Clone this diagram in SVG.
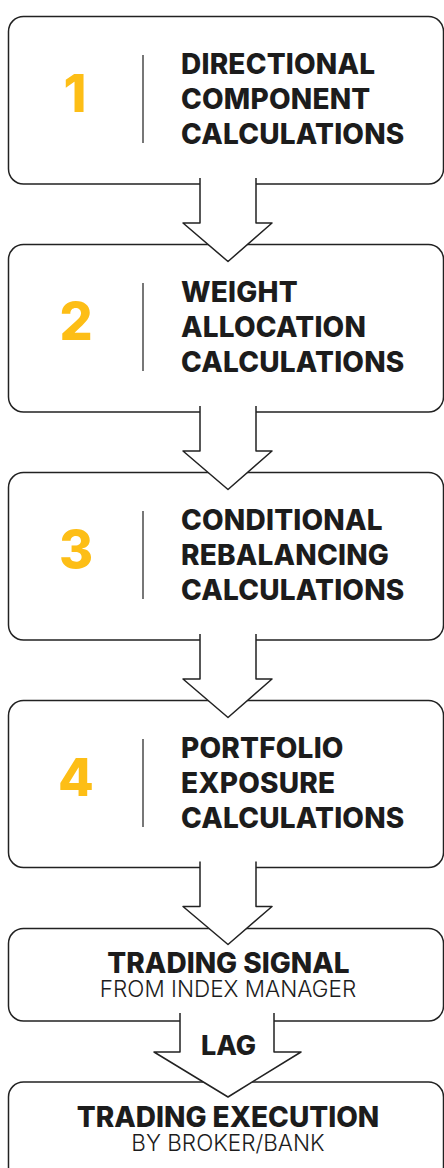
<svg xmlns="http://www.w3.org/2000/svg" width="444" height="1168" viewBox="0 0 444 1168">
  <style>
    .box { fill: #ffffff; stroke: #222222; stroke-width: 1.5; }
    .arrow { fill: #ffffff; stroke: #222222; stroke-width: 1.5; stroke-linejoin: round; }
    .rule { stroke: #555555; stroke-width: 1.6; }
    .num { font-family: Inter, "Liberation Sans", sans-serif; font-weight: 800; font-size: 52px; fill: #FDBE16; text-anchor: middle; }
    .title { font-family: Inter, "Liberation Sans", sans-serif; font-weight: 800; font-size: 28px; letter-spacing: 0.2px; fill: #1c1c1c; }
    .head { font-family: Inter, "Liberation Sans", sans-serif; font-weight: 800; font-size: 28px; fill: #1c1c1c; text-anchor: middle; }
    .sub { font-family: Inter, "Liberation Sans", sans-serif; font-weight: 300; font-size: 22.5px; fill: #1c1c1c; text-anchor: middle; }
  </style>

  <!-- step 1 -->
  <g id="step1">
    <rect class="box" x="8.5" y="16.5" width="435" height="167.5" rx="15"/>
    <text class="num" x="75" y="112">1</text>
    <line class="rule" x1="143" y1="55" x2="143" y2="143"/>
    <text class="title" x="181" y="73.5">DIRECTIONAL</text>
    <text class="title" x="181" y="108.5">COMPONENT</text>
    <text class="title" x="181" y="144">CALCULATIONS</text>
  </g>

  <!-- step 2 -->
  <g id="step2">
    <rect class="box" x="8.5" y="244.5" width="435" height="167.5" rx="15"/>
    <text class="num" x="76" y="340">2</text>
    <line class="rule" x1="143" y1="283" x2="143" y2="371"/>
    <text class="title" x="181" y="301.5">WEIGHT</text>
    <text class="title" x="181" y="336.5">ALLOCATION</text>
    <text class="title" x="181" y="372">CALCULATIONS</text>
  </g>

  <!-- step 3 -->
  <g id="step3">
    <rect class="box" x="8.5" y="472.5" width="435" height="167.5" rx="15"/>
    <text class="num" x="76" y="568">3</text>
    <line class="rule" x1="143" y1="511" x2="143" y2="599"/>
    <text class="title" x="181" y="529.5">CONDITIONAL</text>
    <text class="title" x="181" y="564.5">REBALANCING</text>
    <text class="title" x="181" y="600">CALCULATIONS</text>
  </g>

  <!-- step 4 -->
  <g id="step4">
    <rect class="box" x="8.5" y="700.5" width="435" height="167" rx="15"/>
    <text class="num" x="76" y="796">4</text>
    <line class="rule" x1="143" y1="739" x2="143" y2="827"/>
    <text class="title" x="181" y="757.5">PORTFOLIO</text>
    <text class="title" x="181" y="792.5">EXPOSURE</text>
    <text class="title" x="181" y="828">CALCULATIONS</text>
  </g>

  <!-- trading signal -->
  <g id="signal">
    <rect class="box" x="8.5" y="928.5" width="435" height="92.5" rx="15"/>
    <text class="head" x="228.5" y="973">TRADING SIGNAL</text>
    <text class="sub" x="228" y="997">FROM INDEX MANAGER</text>
  </g>

  <!-- trading execution -->
  <g id="execution">
    <rect class="box" x="8.5" y="1082" width="435" height="100" rx="15"/>
    <text class="head" x="228" y="1126.5">TRADING EXECUTION</text>
    <text class="sub" x="228" y="1151">BY BROKER/BANK</text>
  </g>

  <!-- block arrows between the stages -->
  <g id="connectors">
    <path class="arrow" d="M200 178 V223 H183 L228 261.5 L272 223 H256 V178"/>
    <path class="arrow" d="M200 406 V451 H183 L228 489.5 L272 451 H256 V406"/>
    <path class="arrow" d="M200 634 V679 H183 L228 717.5 L272 679 H256 V634"/>
    <path class="arrow" d="M200 861.5 V906.5 H183 L228 944.5 L272 906.5 H256 V861.5"/>
    <path class="arrow" d="M180 1013 V1052 H154 L228 1097 L301 1052 H274 V1013"/>
    <text class="head" x="228.5" y="1055" style="font-size:27px">LAG</text>
  </g>
</svg>
